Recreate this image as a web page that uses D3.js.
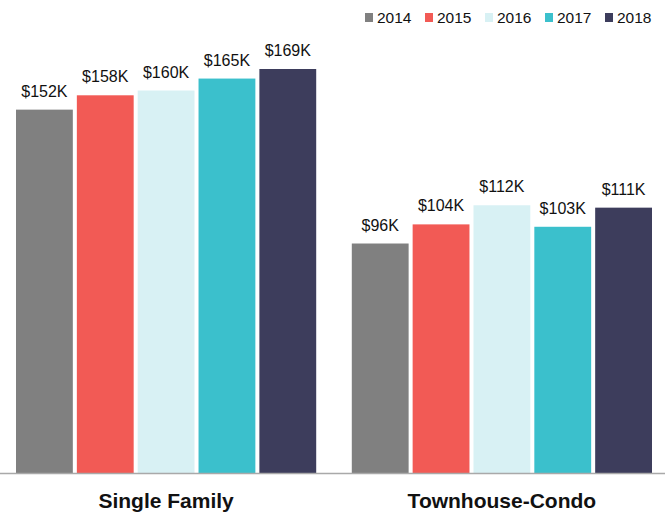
<!DOCTYPE html>
<html lang="en">
<head>
	<meta charset="utf-8">
	<title>Median Sales Price</title>
	<style>
		body { margin: 0; background: #fff; }
		text { font-family: "Liberation Sans", Arial, Helvetica, sans-serif; fill: #111; }
		.cat { font-weight: bold; font-size: 21px; }
		.val { font-size: 16px; }
		.leg { font-size: 15.5px; }
	</style>
</head>
<body>
	<div id="chart"></div>
	<script src="https://cdn.jsdelivr.net/npm/d3@7"></script>
	<script>
		var categories = ["Single Family", "Townhouse-Condo"];
		var years = ["2014", "2015", "2016", "2017", "2018"];
		var singleFamily = [152, 158, 160, 165, 169];
		var townhouse = [96, 104, 112, 103, 111];
		var colors = ["#808080", "#f25a55", "#d8f1f4", "#3bc0cc", "#3d3d5c"];

		var width = 665,
		    height = 512,
		    baseline = 473;

		var series = [singleFamily, townhouse];

		var svg = d3.select("#chart")
			.append("svg")
			.attr("width", width)
			.attr("height", height);

		var x0 = d3.scaleBand()
			.domain(categories)
			.range([16, 652])
			.paddingInner(0.106)
			.paddingOuter(0);

		var x1 = d3.scaleBand()
			.domain(years)
			.range([0, x0.bandwidth()])
			.paddingInner(0.066)
			.paddingOuter(0);

		var y = d3.scaleLinear()
			.domain([0, 169])
			.range([baseline, 69]);

		var color = d3.scaleOrdinal().domain(years).range(colors);

		var groups = svg.append("g")
			.selectAll("g")
			.data(categories)
			.enter().append("g")
			.attr("transform", function(d) { return "translate(" + x0(d) + ",0)"; });

		groups.selectAll("rect")
			.data(function(d, i) { return years.map(function(yr, j) { return {year: yr, value: series[i][j]}; }); })
			.enter().append("rect")
			.attr("x", function(d) { return x1(d.year); })
			.attr("y", function(d) { return y(d.value); })
			.attr("width", x1.bandwidth())
			.attr("height", function(d) { return baseline - y(d.value); })
			.attr("fill", function(d) { return color(d.year); });

		groups.selectAll("text")
			.data(function(d, i) { return years.map(function(yr, j) { return {year: yr, value: series[i][j]}; }); })
			.enter().append("text")
			.attr("class", "val")
			.attr("x", function(d) { return x1(d.year) + x1.bandwidth() / 2; })
			.attr("y", function(d) { return y(d.value) - 13; })
			.attr("text-anchor", "middle")
			.text(function(d) { return "$" + d.value + "K"; });

		// baseline axis
		svg.append("line")
			.attr("x1", 0).attr("x2", width)
			.attr("y1", baseline + 0.5).attr("y2", baseline + 0.5)
			.attr("stroke", "#a9a9a9")
			.attr("stroke-width", 1.5);

		svg.append("g")
			.selectAll("text")
			.data(categories)
			.enter().append("text")
			.attr("class", "cat")
			.attr("x", function(d) { return x0(d) + x0.bandwidth() / 2; })
			.attr("y", 508)
			.attr("text-anchor", "middle")
			.text(function(d) { return d; });

		// legend
		var legend = svg.append("g")
			.selectAll("g")
			.data(years)
			.enter().append("g")
			.attr("transform", function(d, i) { return "translate(" + (365 + i * 60) + ",0)"; });

		legend.append("rect")
			.attr("x", 0).attr("y", 13)
			.attr("width", 8).attr("height", 9)
			.attr("fill", function(d) { return color(d); });

		legend.append("text")
			.attr("class", "leg")
			.attr("x", 12)
			.attr("y", 23)
			.text(function(d) { return d; });
	</script>
</body>
</html>
